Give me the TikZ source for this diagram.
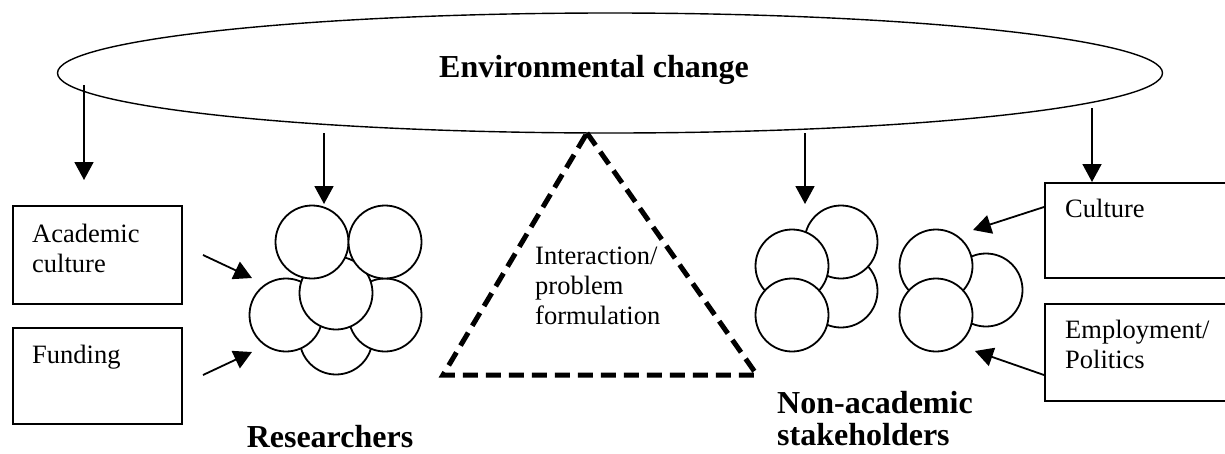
\documentclass[tikz,border=0pt]{standalone}
\usepackage{fontspec}
\setmainfont{Liberation Serif}
\usetikzlibrary{arrows.meta,shapes.geometric}
\begin{document}
\begin{tikzpicture}[x=1pt,y=-1pt,
  flow/.style={line width=1.8pt,-{Triangle[width=19pt,length=18pt]}},
  factor/.style={draw,line width=1.8pt,rectangle,anchor=north west,inner sep=0pt},
  member/.style={circle,draw,fill=white,line width=1.8pt,minimum size=73pt,inner sep=0pt},
  plain/.style={font=\fontsize{26.5}{30}\selectfont,anchor=base west,inner sep=0pt},
  heading/.style={font=\fontsize{32}{32}\selectfont\bfseries,inner sep=0pt},
  arena/.style={line width=5pt,dash pattern=on 15pt off 8pt,line join=miter}
]
\useasboundingbox (0,0) rectangle (1225,453);
\clip (0,0) rectangle (1225,453);

% surrounding environment
\node[draw,ellipse,line width=1.4pt,minimum width=1105pt,minimum height=120pt,inner sep=0pt] (env) at (610,73) {};
\node[heading,anchor=base] (envtxt) at (594,77) {Environmental change};

% factor boxes
\node[factor,minimum width=169pt,minimum height=98pt] (acad) at (12,205) {};
\node[factor,minimum width=169pt,minimum height=96pt] (fund) at (12,327) {};
\node[factor,minimum width=200pt,minimum height=95pt] (cult) at (1044,182) {};
\node[factor,minimum width=200pt,minimum height=97pt] (empl) at (1044,303) {};
\node[plain] (acadA) at (32,242) {Academic};
\node[plain] (acadB) at (32,272) {culture};
\node[plain] (fundA) at (32,363) {Funding};
\node[plain] (cultA) at (1065,217) {Culture};
\node[plain] (emplA) at (1065,338) {Employment/};
\node[plain] (emplB) at (1065,368) {Politics};

% researchers
\node[member] (r6) at (336,338) {};
\node[member] (r4) at (286,315) {};
\node[member] (r5) at (385,315) {};
\node[member] (r3) at (336,293) {};
\node[member] (r1) at (312,242) {};
\node[member] (r2) at (385,242) {};
\node[heading,anchor=base] (restxt) at (330,447) {Researchers};

% non-academic stakeholders
\node[member] (s4) at (841,291) {};
\node[member] (s1) at (841,242) {};
\node[member] (s2) at (792,266) {};
\node[member] (s3) at (792,315) {};
\node[member] (t2) at (986,290) {};
\node[member] (t1) at (936,266) {};
\node[member] (t3) at (936,315) {};
\node[heading,anchor=base west] (stkA) at (777,413) {Non-academic};
\node[heading,anchor=base west] (stkB) at (777,445) {stakeholders};

% interaction triangle
\coordinate (apex) at (587,133);
\coordinate (bl) at (443,375);
\coordinate (br) at (757,375);
\draw[arena] (apex) -- (br) -- (bl) -- cycle;
\node[plain] (intA) at (535,264) {Interaction/};
\node[plain] (intB) at (535,294) {problem};
\node[plain] (intC) at (535,324) {formulation};

% influences from the environment
\coordinate (d1s) at (84,85);   \coordinate (d1e) at (84,180);
\coordinate (d2s) at (324,133); \coordinate (d2e) at (324,204);
\coordinate (d3s) at (805,133); \coordinate (d3e) at (805,204);
\coordinate (d4s) at (1092,108);
\draw[flow] (d1s) -- (d1e);
\draw[flow] (d2s) -- (d2e);
\draw[flow] (d3s) -- (d3e);
\draw[flow] (d4s) -- (d4s |- cult.north);

% influences of the factors
\coordinate (a1s) at (203,255); \coordinate (a1e) at (252,278);
\coordinate (a2s) at (203,375); \coordinate (a2e) at (252,352);
\coordinate (b1e) at (973,230);
\coordinate (b2e) at (975,351);
\draw[flow] (a1s) -- (a1e);
\draw[flow] (a2s) -- (a2e);
\draw[flow] (cult.west |- 0,207) -- (b1e);
\draw[flow] (empl.west |- 0,375) -- (b2e);
\end{tikzpicture}
\end{document}
